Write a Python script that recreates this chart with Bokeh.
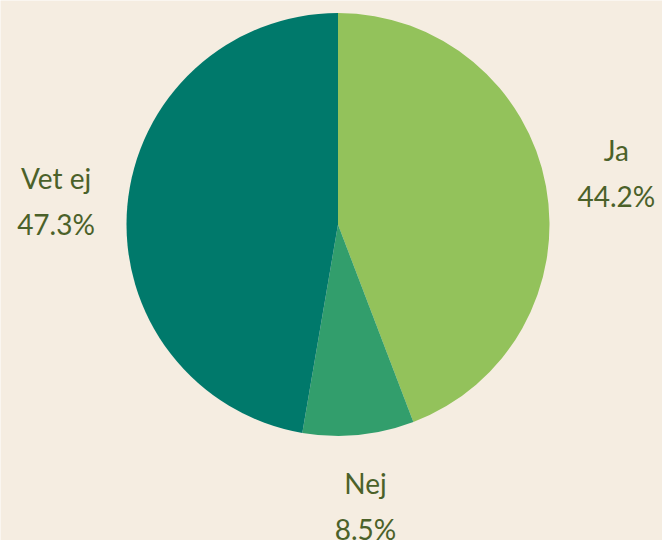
import math
from bokeh.plotting import figure
from bokeh.models import ColumnDataSource, Range1d
from bokeh.core.properties import value
from bokeh.embed import file_html
from bokeh.resources import INLINE

categories = ["Ja", "Nej", "Vet ej"]
shares = [44.2, 8.5, 47.3]
colors = ["#93C25B", "#329E6C", "#00796B"]

W, H = 662, 540
cx, cy, r = 337.5, 316.0, 211.5
label_r = 283.0

total = sum(shares)
starts, ends, lx, ly = [], [], [], []
acc = 0.0
for s in shares:
    a0 = math.pi / 2 - 2 * math.pi * acc / total
    acc += s
    a1 = math.pi / 2 - 2 * math.pi * acc / total
    starts.append(a0)
    ends.append(a1)
    mid = (a0 + a1) / 2
    lx.append(cx + label_r * math.cos(mid))
    ly.append(cy + label_r * math.sin(mid))

src = ColumnDataSource(dict(
    cat=categories,
    pct=[f"{s:.1f}%" for s in shares],
    start=starts, end=ends, color=colors,
    lx=lx, ly=ly,
    ly1=[y + 23 for y in ly], ly2=[y - 23 for y in ly],
))

p = figure(width=W, height=H, output_backend="svg", toolbar_location=None,
           x_range=Range1d(0, W), y_range=Range1d(0, H), min_border=0)
p.axis.visible = False
p.grid.visible = False
p.outline_line_color = None
p.background_fill_color = "#F5EDE1"
p.border_fill_color = "#F5EDE1"

p.wedge(x=cx, y=cy, radius=r, start_angle="start", end_angle="end",
        direction="clock", fill_color="color", line_color=None, source=src)

txt = "#4B6129"
p.text(x="lx", y="ly1", text="cat", source=src, text_align="center",
       text_baseline="middle", text_font=value("Lato"),
       text_font_size="28px", text_color=txt)
p.text(x="lx", y="ly2", text="pct", source=src, text_align="center",
       text_baseline="middle", text_font=value("Lato"),
       text_font_size="28px", text_color=txt)

open("out.html", "w").write(file_html(p, INLINE))
